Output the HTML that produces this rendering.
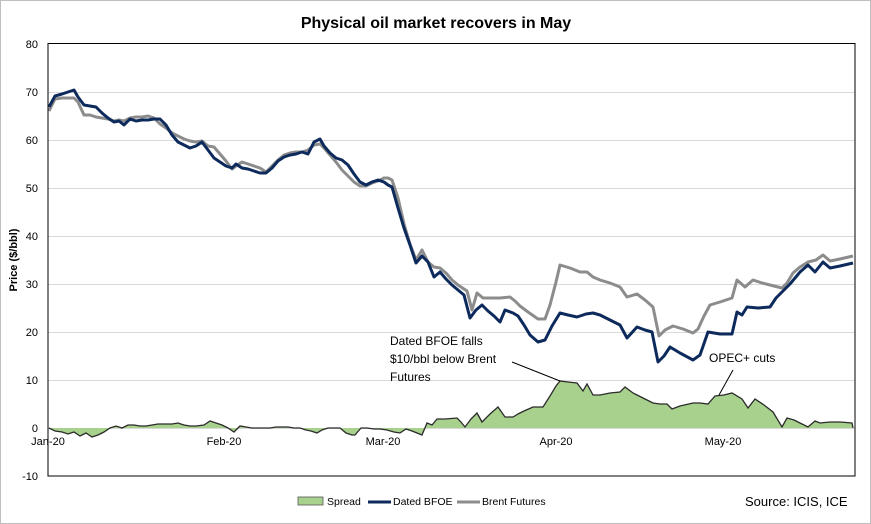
<!DOCTYPE html>
<html><head><meta charset="utf-8"><style>
html,body{margin:0;padding:0;background:#fff}
svg{display:block;font-family:"Liberation Sans",Calibri,sans-serif}
</style></head><body>
<svg width="871" height="524" viewBox="0 0 871 524" xmlns="http://www.w3.org/2000/svg">
<rect x="0.5" y="0.5" width="870" height="523" fill="#fff" stroke="#bfbfbf"/>
<text x="436" y="28" text-anchor="middle" font-size="16" font-weight="bold" fill="#000">Physical oil market recovers in May</text>
<g stroke="#d9d9d9" stroke-width="1">
<line x1="48" y1="92.5" x2="855" y2="92.5"/><line x1="48" y1="140.5" x2="855" y2="140.5"/>
<line x1="48" y1="188.5" x2="855" y2="188.5"/><line x1="48" y1="236.5" x2="855" y2="236.5"/>
<line x1="48" y1="284.5" x2="855" y2="284.5"/><line x1="48" y1="332.5" x2="855" y2="332.5"/>
<line x1="48" y1="380.5" x2="855" y2="380.5"/><line x1="48" y1="428.5" x2="855" y2="428.5"/>
</g>
<g font-size="11" fill="#000" text-anchor="end">
<text x="38" y="48">80</text><text x="38" y="96">70</text><text x="38" y="144">60</text>
<text x="38" y="192">50</text><text x="38" y="240">40</text><text x="38" y="288">30</text>
<text x="38" y="336">20</text><text x="38" y="384">10</text><text x="38" y="432">0</text><text x="38" y="480">-10</text>
</g>
<text transform="translate(17,260) rotate(-90)" text-anchor="middle" font-size="11" font-weight="bold">Price ($/bbl)</text>
<polygon fill="#a9d18e" stroke="none" points="49,428 55,431 62,432 68,434 74,432 80,436 86,433 92,437 98,435 104,432 110,428 116,426 122,428 128,425 134,425 140,426 146,426 152,425 158,424 166,424 172,424 178,423 184,425 190,426 196,426 204,425 210,421 216,423 222,425 228,428 234,432 240,426 246,427 252,428 258,428 264,428 270,428 276,427 282,427 288,427 294,428 300,428 306,430 311,431 317,433 322,430 328,428 334,428 340,428 346,433 352,435 355,435 361,428 367,428 374,429 380,429 387,430 394,432 400,433 406,429 412,431 417,433 422,435 427,423 432,425 437,419 445,419 457,418 461,422 465,427 471,419 477,413 482,422 490,414 498,407 505,417 513,417 518,414 524,411 533,407 543,407 550,396 556,386 560,381 568,382 577,383 583,391 587,384 593,395 600,395 610,393 620,392 625,387 633,393 643,398 653,403 660,404 667,404 672,409 680,406 693,403 700,403 708,404 715,396 724,395 732,393 742,399 748,408 755,399 764,405 773,412 782,427 787,418 794,420 800,423 808,427 815,421 820,423 830,422 840,422 852,423 853,428"/>
<polyline fill="none" stroke="#2b2b2b" stroke-width="1.3" points="49,428 55,431 62,432 68,434 74,432 80,436 86,433 92,437 98,435 104,432 110,428 116,426 122,428 128,425 134,425 140,426 146,426 152,425 158,424 166,424 172,424 178,423 184,425 190,426 196,426 204,425 210,421 216,423 222,425 228,428 234,432 240,426 246,427 252,428 258,428 264,428 270,428 276,427 282,427 288,427 294,428 300,428 306,430 311,431 317,433 322,430 328,428 334,428 340,428 346,433 352,435 355,435 361,428 367,428 374,429 380,429 387,430 394,432 400,433 406,429 412,431 417,433 422,435 427,423 432,425 437,419 445,419 457,418 461,422 465,427 471,419 477,413 482,422 490,414 498,407 505,417 513,417 518,414 524,411 533,407 543,407 550,396 556,386 560,381 568,382 577,383 583,391 587,384 593,395 600,395 610,393 620,392 625,387 633,393 643,398 653,403 660,404 667,404 672,409 680,406 693,403 700,403 708,404 715,396 724,395 732,393 742,399 748,408 755,399 764,405 773,412 782,427 787,418 794,420 800,423 808,427 815,421 820,423 830,422 840,422 852,423 853,428"/>
<polyline fill="none" stroke="#8c8c8c" stroke-width="3" stroke-linejoin="round" points="49,111 55,99 62,98 68,98 74,98 78,102 84,115 90,115 96,117 102,118 108,119 114,121 119,120 124,121 130,118 136,117 142,117 148,116 154,118 160,124 166,128 172,133 178,136 184,139 190,141 196,142 202,141 208,146 214,147 220,154 226,161 232,169 236,166 242,162 248,164 254,166 260,168 266,172 272,166 278,160 284,155 290,153 296,152 302,152 308,150 314,145 320,144 324,148 330,155 336,162 342,170 348,176 354,182 360,186 366,186 372,183 378,181 384,178 388,178 392,180 398,198 404,224 410,244 416,260 422,250 428,262 434,267 440,268 446,273 452,280 458,285 467,291 472,310 477,293 483,298 492,298 500,298 510,297 515,301 520,306 528,312 538,319 545,319 550,305 556,282 560,265 570,268 580,272 587,272 593,277 600,280 610,283 620,287 627,297 637,294 645,300 653,307 659,336 665,330 673,326 683,329 693,333 698,329 704,316 710,305 720,302 732,298 737,280 745,287 753,280 762,283 770,285 782,288 787,283 793,273 800,267 808,262 816,260 823,255 830,261 840,259 853,256"/>
<polyline fill="none" stroke="#0d2a5c" stroke-width="3" stroke-linejoin="round" points="49,107 55,96 62,94 68,92 74,90 78,97 84,105 90,106 96,107 102,113 108,118 114,122 119,121 124,125 130,119 136,121 142,120 148,120 154,119 160,119 166,125 172,135 178,142 184,145 190,148 196,146 202,142 208,150 214,158 220,162 226,166 232,168 236,164 242,168 248,169 254,171 260,173 266,173 272,168 278,161 284,157 290,155 296,154 302,152 308,154 314,142 320,139 324,146 330,153 336,158 342,160 348,165 354,174 360,182 366,185 372,182 378,180 384,182 388,185 392,187 398,208 404,228 410,245 416,263 422,256 428,262 434,277 440,272 446,279 452,285 458,290 464,295 470,318 476,310 482,305 488,311 494,316 500,322 505,310 513,313 518,316 524,325 530,335 538,342 545,340 552,326 560,313 568,315 577,317 586,314 593,313 600,315 610,320 620,325 627,338 637,327 645,330 652,332 658,362 664,356 670,347 680,353 693,360 700,355 708,332 720,334 732,334 737,312 742,315 747,307 758,308 770,307 776,298 782,292 790,284 800,272 808,265 815,272 823,262 830,268 840,266 853,263"/>
<g font-size="12" fill="#000">
<text x="390" y="345">Dated BFOE falls</text>
<text x="390" y="363">$10/bbl below Brent</text>
<text x="390" y="381">Futures</text>
<text x="709" y="362">OPEC+ cuts</text>
</g>
<line x1="512" y1="362" x2="560" y2="381" stroke="#000" stroke-width="1"/>
<line x1="733" y1="370" x2="719" y2="395" stroke="#000" stroke-width="1"/>
<rect x="48" y="43.5" width="807" height="432.5" fill="none" stroke="#000" stroke-width="1"/>
<g font-size="11" fill="#000" text-anchor="middle">
<text x="48" y="445">Jan-20</text><text x="224" y="445">Feb-20</text><text x="383" y="445">Mar-20</text>
<text x="556" y="445">Apr-20</text><text x="723" y="445">May-20</text>
</g>
<rect x="298" y="497" width="25" height="8" fill="#a9d18e" stroke="#555" stroke-width="0.8"/>
<text x="327" y="505" font-size="10.5">Spread</text>
<line x1="368" y1="502" x2="391" y2="502" stroke="#0d2a5c" stroke-width="3"/>
<text x="393" y="505" font-size="10.5">Dated BFOE</text>
<line x1="457" y1="502" x2="480" y2="502" stroke="#8c8c8c" stroke-width="3"/>
<text x="482" y="505" font-size="10.5">Brent Futures</text>
<text x="745" y="506" font-size="13">Source: ICIS, ICE</text>
</svg>
</body></html>
